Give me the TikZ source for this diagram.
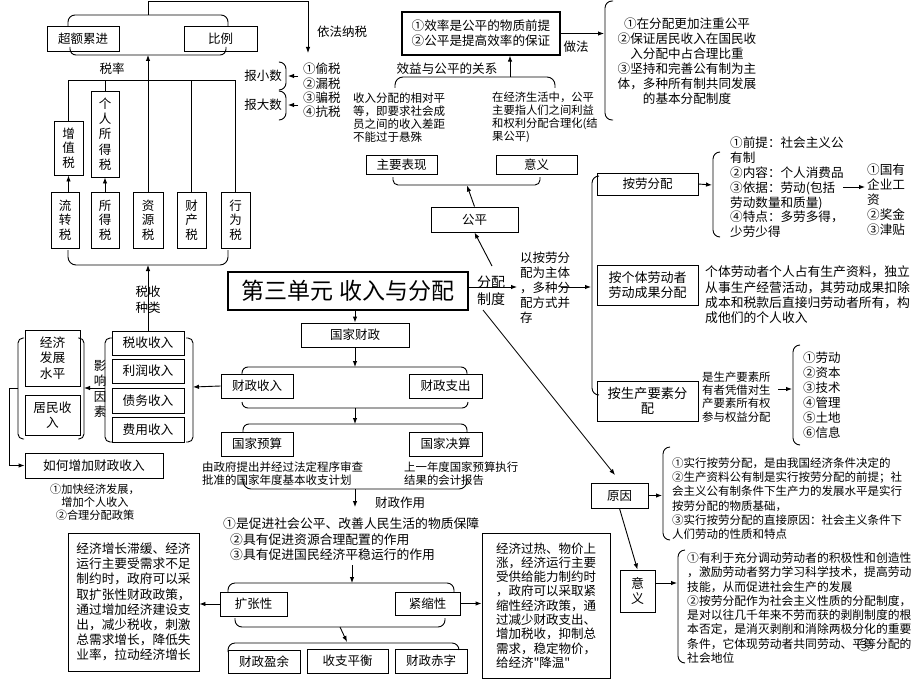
\documentclass[tikz,border=0pt]{standalone}
\usepackage{fontspec}
\setmainfont{Noto Sans CJK SC}
\newfontfamily\plainqf{Noto Sans CJK SC}
\usetikzlibrary{arrows.meta}
\newcommand{\fsz}[2]{\fontsize{#1}{#2}\selectfont}
\newcommand{\sq}{{\plainqf "}}
\begin{document}
\begin{tikzpicture}[x=1pt,y=-1pt,
  bx/.style={draw, line width=0.9pt, inner sep=0pt, align=center, font=\fsz{12.5}{15}},
  txt/.style={inner sep=0pt, align=left, font=\fsz{12.5}{15}},
  arr/.style={-{Latex[length=6pt,width=4.5pt]}, line width=0.9pt},
  ln/.style={line width=0.9pt},
  br/.style={line width=0.9pt, rounded corners=6pt}]
\useasboundingbox (0,0) rectangle (920,690);

% ---------- boxes ----------
\node[bx, minimum width=72, minimum height=25] (cejl) at (83,38.5) {超额累进};
\node[bx, minimum width=73, minimum height=25] (bili) at (220.5,38.5) {比例};
\node[bx, minimum width=29, minimum height=54, font=\fsz{12.5}{14.5}] (zzs) at (68.5,148) {增\\值\\税};
\node[bx, minimum width=28, minimum height=86, font=\fsz{12.5}{15.3}] (grsds) at (105,134) {个\\人\\所\\得\\税};
\node[bx, minimum width=28, minimum height=56, font=\fsz{12.5}{14.5}] (lzs) at (65,220) {流\\转\\税};
\node[bx, minimum width=28, minimum height=56, font=\fsz{12.5}{14.5}] (sds) at (105,220) {所\\得\\税};
\node[bx, minimum width=30, minimum height=56, font=\fsz{12.5}{14.5}] (zys) at (148,220) {资\\源\\税};
\node[bx, minimum width=29, minimum height=56, font=\fsz{12.5}{14.5}] (ccs) at (191.5,220) {财\\产\\税};
\node[bx, minimum width=29, minimum height=56, font=\fsz{12.5}{14.5}] (xws) at (235.5,220) {行\\为\\税};

\node[bx, line width=1.2pt, minimum width=158, minimum height=43, font=\fsz{12.6}{15}] (xl) at (481,33.5) {①效率是公平的物质前提\\②公平是提高效率的保证};
\node[bx, minimum width=71, minimum height=19] (zybx) at (401.5,164.5) {主要表现};
\node[bx, minimum width=81, minimum height=19] (yyb) at (536.5,164.5) {意义};
\node[bx, minimum width=87, minimum height=25] (gp) at (474.5,219.5) {公平};
\node[bx, line width=2.5pt, minimum width=240, minimum height=38, font=\fsz{23}{26}] (title) at (348,291) {第三单元 收入与分配};
\node[bx, minimum width=108, minimum height=24] (gjcz) at (355,335) {国家财政};
\node[bx, minimum width=72, minimum height=24] (czsr) at (257,386) {财政收入};
\node[bx, minimum width=73, minimum height=24] (czzc) at (445.5,386) {财政支出};
\node[bx, minimum width=72, minimum height=24] (gjys) at (257,444) {国家预算};
\node[bx, minimum width=73, minimum height=24] (gjjs) at (445.5,444) {国家决算};

\node[bx, minimum width=72, minimum height=24, font=\fsz{12.7}{15}] (sssr) at (148,343) {税收收入};
\node[bx, minimum width=72, minimum height=24, font=\fsz{12.7}{15}] (lrsr) at (148,371) {利润收入};
\node[bx, minimum width=72, minimum height=25, font=\fsz{12.7}{15}] (zwsr) at (148,400.5) {债务收入};
\node[bx, minimum width=72, minimum height=25, font=\fsz{12.7}{15}] (fysr) at (148,429.5) {费用收入};
\node[bx, minimum width=55, minimum height=56, font=\fsz{12.7}{15.5}] (jjfz) at (52.5,358) {经济\\发展\\水平};
\node[bx, minimum width=55, minimum height=40, font=\fsz{12.7}{15}] (jmsr) at (52.5,415) {居民收\\入};
\node[bx, minimum width=138, minimum height=25, font=\fsz{12.7}{15}] (rhzj) at (94,465.5) {如何增加财政收入};

\node[bx, minimum width=67, minimum height=24] (kzx) at (253.5,604) {扩张性};
\node[bx, minimum width=65, minimum height=23] (jsx) at (427.5,603.5) {紧缩性};
\node[bx, align=left, minimum width=131, minimum height=138, font=\fsz{12.7}{15.2}] (ltb) at (133.5,602)
 {经济增长滞缓、经济\\运行主要受需求不足\\制约时，政府可以采\\取扩张性财政政策，\\通过增加经济建设支\\出，减少税收，刺激\\总需求增长，降低失\\业率，拉动经济增长};
\node[bx, align=left, minimum width=128, minimum height=145, font=\fsz{12.5}{14.3}] (rtb) at (546,605.5)
 {经济过热、物价上\\涨，经济运行主要\\受供给能力制约时\\，政府可以采取紧\\缩性经济政策，通\\过减少财政支出、\\增加税收，抑制总\\需求，稳定物价，\\给经济\sq 降温\sq};
\node[bx, minimum width=72, minimum height=23] (czyy) at (264,661.5) {财政盈余};
\node[bx, minimum width=81, minimum height=24] (szph) at (347.5,661) {收支平衡};
\node[bx, minimum width=72, minimum height=24] (czcz) at (431,661) {财政赤字};

\node[bx, minimum width=101, minimum height=22] (aldfp) at (647.5,184) {按劳分配};
\node[bx, minimum width=101, minimum height=40, font=\fsz{13}{15}] (agt) at (647.5,285) {按个体劳动者\\劳动成果分配};
\node[bx, minimum width=101, minimum height=40, font=\fsz{13.3}{15}] (asc) at (647.5,401) {按生产要素分\\配};
\node[bx, minimum width=57, minimum height=25] (yuanyin) at (619.5,495.5) {原因};
\node[bx, minimum width=35, minimum height=42, font=\fsz{13}{15}] (yiyib) at (637.5,591) {意\\义};

% ---------- texts ----------
\node[txt] (ylns) at (342,32) {依法纳税};
\node[txt] (shuilv) at (112,69) {税率};
\node[txt, align=center, font=\fsz{12.5}{16}] (sszl) at (148,300) {税收\\种类};
\node[txt] (bxs) at (263,76) {报小数};
\node[txt] (bds) at (263,105) {报大数};
\node[txt, anchor=west, font=\fsz{12.5}{14.3}] (ts) at (303,90.5) {①偷税\\②漏税\\③骗税\\④抗税};
\node[txt] (zf) at (576,47) {做法};
\node[txt, align=center, font=\fsz{12.6}{15}] (zfl) at (687,61.5) {①在分配更加注重公平\\②保证居民收入在国民收\\入分配中占合理比重\\③坚持和完善公有制为主\\体，多种所有制共同发展\\的基本分配制度};
\node[txt, font=\fsz{12.6}{15}] (xygx) at (447,69) {效益与公平的关系};
\node[txt, anchor=west, font=\fsz{11.5}{13}] (zybxt) at (353,117.5) {收入分配的相对平\\等，即要求社会成\\员之间的收入差距\\不能过于悬殊};
\node[txt, anchor=west, font=\fsz{11.3}{13}] (yyt) at (492,117.5) {在经济生活中，公平\\主要指人们之间利益\\和权利分配合理化(结\\果公平)};
\node[txt, align=center, font=\fsz{14}{17}] (fpzd) at (491,290.5) {分配\\制度};
\node[txt, anchor=west, font=\fsz{12.5}{15}] (yald) at (520,288) {以按劳分\\配为主体\\，多种分\\配方式并\\存};
\node[txt, anchor=west, font=\fsz{12.6}{14.8}] (aldt) at (730,187.5) {①前提：社会主义公\\有制\\②内容：个人消费品\\③依据：劳动(包括\\劳动数量和质量)\\④特点：多劳多得，\\少劳少得};
\node[txt, anchor=west, font=\fsz{12.6}{15}] (gyqy) at (867,200) {①国有\\企业工\\资\\②奖金\\③津贴};
\node[txt, anchor=west, font=\fsz{12.8}{15.3}] (agtt) at (705,295) {个体劳动者个人占有生产资料，独立\\从事生产经营活动，其劳动成果扣除\\成本和税款后直接归劳动者所有，构\\成他们的个人收入};
\node[txt, anchor=west, font=\fsz{11.4}{13.3}] (asct) at (702,397) {是生产要素所\\有者凭借对生\\产要素所有权\\参与权益分配};
\node[txt, anchor=west, font=\fsz{12.5}{15}] (scys) at (803,395.5) {①劳动\\②资本\\③技术\\④管理\\⑤土地\\⑥信息};
\node[txt, anchor=west, font=\fsz{11.5}{14.2}] (yyt2) at (672,498.5) {①实行按劳分配，是由我国经济条件决定的\\②生产资料公有制是实行按劳分配的前提；社\\会主义公有制条件下生产力的发展水平是实行\\按劳分配的物质基础，\\③实行按劳分配的直接原因：社会主义条件下\\人们劳动的性质和特点};
\node[txt, anchor=west, font=\fsz{11.8}{14.3}] (yyt3) at (687,608) {①有利于充分调动劳动者的积极性和创造性\\，激励劳动者努力学习科学技术，提高劳动\\技能，从而促进社会生产的发展\\②按劳分配作为社会主义性质的分配制度，\\是对以往几千年来不劳而获的剥削制度的根\\本否定，是消灭剥削和消除两极分化的重要\\条件，它体现劳动者共同劳动、平等分配的\\社会地位};
\node[txt, font=\fsz{14}{14}] (pgno) at (864,645) {③};
\node[txt, align=center, font=\fsz{12.5}{15.3}] (yxys) at (100,389) {影\\响\\因\\素};
\node[txt, align=center, font=\fsz{11.2}{13}] (zjff) at (95,502) {①加快经济发展，\\增加个人收入\\②合理分配政策};
\node[txt, anchor=west, font=\fsz{11.5}{13}] (yst) at (202,473.5) {由政府提出并经过法定程序审查\\批准的国家年度基本收支计划};
\node[txt, anchor=west, font=\fsz{11.4}{13}] (jst) at (404,473.5) {上一年度国家预算执行\\结果的会计报告};
\node[txt] (czzy) at (400,503) {财政作用};
\node[txt, anchor=west, font=\fsz{12.8}{15.5}] (zyl) at (223,539.5) {①是促进社会公平、改善人民生活的物质保障\\\hspace*{7pt}②具有促进资源合理配置的作用\\\hspace*{7pt}③具有促进国民经济平稳运行的作用};

% ---------- coordinates ----------
\coordinate (b1t) at (148,15);
\coordinate (b1b) at (148,55);
\coordinate (topline) at (308,1);
\coordinate (yfnsend) at (308,53);
\coordinate (sl) at (0,80);
\coordinate (b2b) at (148,265);
\coordinate (ts1) at (298,76);
\coordinate (ts2) at (298,105);
\coordinate (bx1) at (288,76);
\coordinate (bx2) at (288,105);
\coordinate (zfb) at (604,33.5);
\coordinate (b3t) at (510,77);
\coordinate (b4b) at (467,185.5);
\coordinate (fz1) at (492,266);
\coordinate (fzarr) at (517,287);
\coordinate (yaldst) at (561,287);
\coordinate (yaldend) at (591,287);
\coordinate (b7) at (712,185);
\coordinate (gy1) at (843,187);
\coordinate (gy2) at (865,187);
\coordinate (sc1) at (778,389);
\coordinate (b8) at (792,389);
\coordinate (fz2) at (483,310);
\coordinate (yyin) at (615,475);
\coordinate (b9) at (662,495.5);
\coordinate (b10) at (677,583);
\coordinate (b13t) at (355,367);
\coordinate (b13b) at (355,408);
\coordinate (b14t) at (355,424);
\coordinate (b14b) at (355,489);
\coordinate (czzyend) at (355,507);
\coordinate (zy1) at (352,565);
\coordinate (b15t) at (352,583);
\coordinate (b15b) at (340,627);
\coordinate (b16t) at (347,642);
\coordinate (b11r) at (193,387);
\coordinate (b11l) at (105,388);
\coordinate (b12r) at (84,388);
\coordinate (b12l) at (18,388);
\coordinate (lft) at (9,0);

% ---------- braces ----------
\draw[br, rounded corners=7pt] (68,27) -- (68,15) -- (228,15) -- (228,27);
\draw[br] (70,47) -- (70,55) -- (226,55) -- (226,47);
\draw[br, rounded corners=8pt] (68,250) -- (68,265) -- (228,265) -- (228,250);
\draw[br, rounded corners=7pt] (280,62) -- (286,62) -- (286,90) -- (280,90);
\draw[br, rounded corners=7pt] (280,91) -- (286,91) -- (286,120) -- (280,120);
\draw[br, rounded corners=7pt] (613,1) -- (605,1) -- (605,120) -- (613,120);
\draw[br, rounded corners=8pt] (395,88) -- (395,77) -- (555,77) -- (555,88);
\draw[br, rounded corners=5pt] (393,177) -- (393,185) -- (540,185) -- (540,177);
\draw[br, rounded corners=7pt] (599,176) -- (592,176) -- (592,395) -- (599,395);
\draw[br, rounded corners=7pt] (720,152) -- (713,152) -- (713,237) -- (720,237);
\draw[br, rounded corners=7pt] (800,345) -- (793,345) -- (793,445) -- (800,445);
\draw[br, rounded corners=7pt] (670,447) -- (663,447) -- (663,540) -- (670,540);
\draw[br, rounded corners=7pt] (685,550) -- (678,550) -- (678,663) -- (685,663);
\draw[br] (242,374) -- (242,367) -- (467,367) -- (467,374);
\draw[br] (242,402) -- (242,408) -- (468,408) -- (468,402);
\draw[br] (243,432) -- (243,424) -- (467,424) -- (467,432);
\draw[br, rounded corners=8pt] (243,478) -- (243,489) -- (467,489) -- (467,478);
\draw[br, rounded corners=7pt] (228,592) -- (228,583) -- (454,583) -- (454,592);
\draw[br, rounded corners=7pt] (235,618) -- (235,627) -- (445,627) -- (445,618);
\draw[br, rounded corners=7pt] (228,652) -- (228,643) -- (459,643) -- (459,650);
\draw[br, rounded corners=5pt] (112,338) -- (105,338) -- (105,442) -- (112,442);
\draw[br, rounded corners=5pt] (186,338) -- (193,338) -- (193,442) -- (186,442);
\draw[br, rounded corners=5pt] (24,338) -- (18,338) -- (18,439) -- (24,439);
\draw[br, rounded corners=5pt] (78,338) -- (84,338) -- (84,439) -- (78,439);

% ---------- connectors ----------
\draw[arr] (b1t) |- (topline) -- (yfnsend);
\draw[ln] (zzs.north) -- (zzs.north |- sl) -- (xws.north |- sl) -- (xws.north);
\draw[ln] (grsds.north) -- (grsds.north |- sl);
\draw[ln] (ccs.north) -- (ccs.north |- sl);
\draw[arr] (zys.north) -- (b1b);
\draw[arr] (zzs.south |- lzs.north) -- (zzs.south);
\draw[arr] (sds.north) -- (grsds.south);
\draw[arr] (sssr.north) -- (b2b);
\draw[arr] (ts1) -- (bx1);
\draw[arr] (ts2) -- (bx2);
\draw[arr] (xl.east) -- (zfb);
\draw[arr] (b3t) -- (b3t |- xl.south);
\draw[arr] (gp.north) -- (b4b);
\draw[arr] (fz1) -- (gp.south);
\draw[arr] (title.east |- fzarr) -- (fzarr);
\draw[arr] (yaldst) -- (yaldend);
\draw[arr] (aldfp.east) -- (b7);
\draw[arr] (gy1) -- (gy2);
\draw[arr] (sc1) -- (b8);
\draw[ln, line width=0.8pt, -{Latex[length=6pt,width=4.5pt]}] (fz2) -- (yyin);
\draw[arr] (yuanyin.east) -- (b9);
\draw[arr] (yuanyin.south) -- (yiyib.north);
\draw[arr] (yiyib.east |- b10) -- (b10);
\draw[arr] (gjcz.north |- title.south) -- (gjcz.north);
\draw[arr] (gjcz.south) -- (b13t);
\draw[arr] (b13b) -- (b14t);
\draw[arr] (b14b) -- (czzyend);
\draw[arr] (zy1) -- (b15t);
\draw[arr] (b15b) -- (b16t);
\draw[arr] (kzx.west) -- (kzx.west -| ltb.east);
\draw[arr] (jsx.east) -- (jsx.east -| rtb.west);
\draw[arr] (czsr.west) -- (b11r);
\draw[arr] (b11l) -- (b12r);
\draw[arr] (b12l) -- (b12l -| lft) |- (rhzj.west);
\end{tikzpicture}
\end{document}
